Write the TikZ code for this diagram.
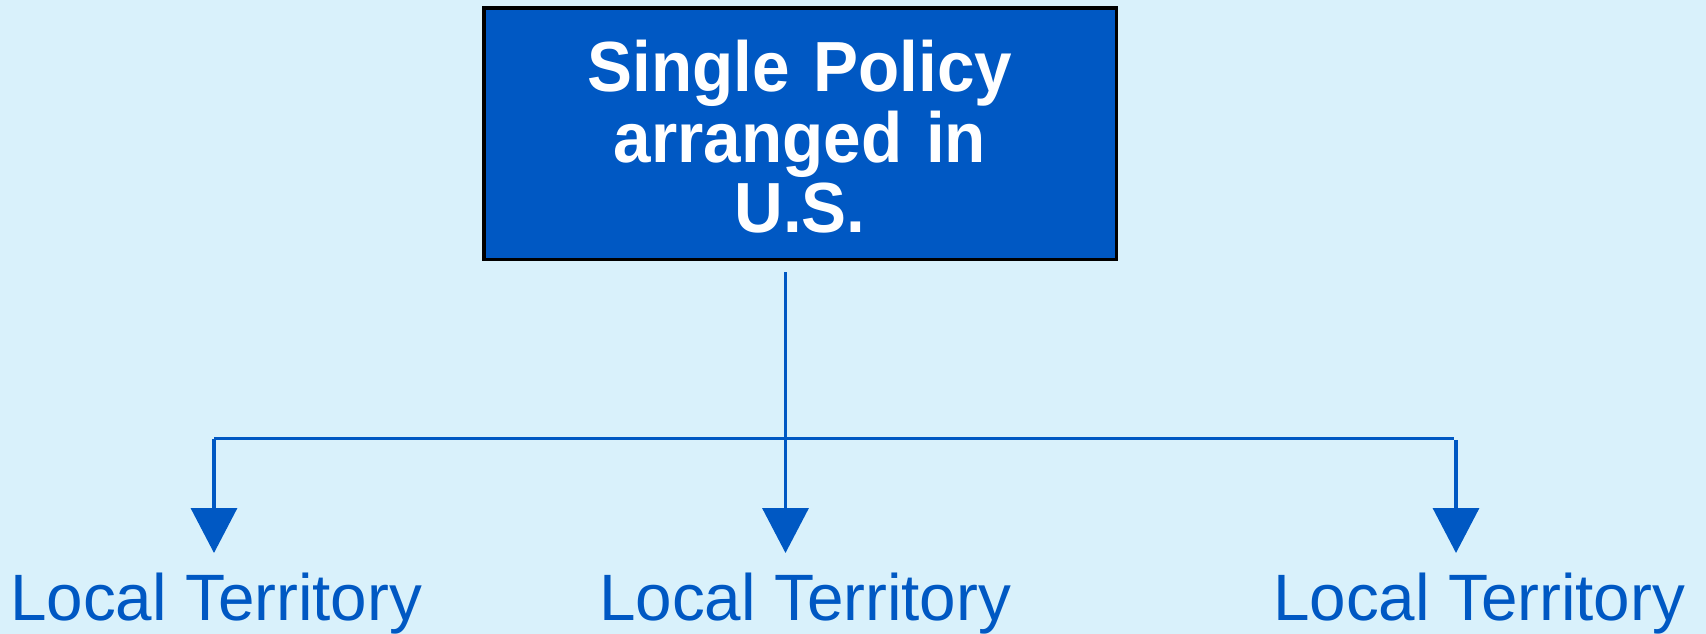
\documentclass[tikz,border=0pt]{standalone}
\usepackage{fontspec}
\setmainfont{Liberation Sans}
\usetikzlibrary{arrows.meta}
\definecolor{bgblue}{HTML}{D9F1FB}
\definecolor{mainblue}{HTML}{0058C3}
\tikzset{
  titlebox/.style={draw=black, line width=3.5pt, fill=mainblue, text=white,
    minimum width=632.5pt, minimum height=251pt, inner sep=0pt,
    text width=620pt, align=center,
    font=\bfseries\fontsize{71}{70.5}\selectfont\addfontfeature{FakeStretch=0.95}},
  leaf/.style={anchor=base west, inner sep=0pt, text=mainblue,
    font=\fontsize{65.6}{70}\selectfont},
  conn/.style={draw=mainblue, line width=3.5pt},
  arr/.style={conn, -{Triangle[width=46pt,length=45pt]}}
}
\begin{document}
\begin{tikzpicture}[x=1pt,y=-1pt]
\useasboundingbox (0,0) rectangle (1706,634);
\fill[bgblue] (0,0) rectangle (1706,634);
\node[titlebox] (title) at (800,133.75) {\rule{0pt}{58pt}Single Policy\\arranged in\\U.S.};
\node[leaf] (l1) at (10,620) {Local Territory};
\node[leaf] (l2) at (599,620) {Local Territory};
\node[leaf] (l3) at (1273,620) {Local Territory};
\coordinate (top) at (785.5,272);
\coordinate (jl) at (214,438.5);
\coordinate (jr) at (1453.5,438.5);
\coordinate (jr2) at (1456,440);
\coordinate (t1) at (214,553);
\coordinate (t2) at (785.5,553);
\coordinate (t3) at (1456,553);
\draw[conn] (jl) -- (jr);
\draw[arr] (top) -- (t2);
\draw[arr] (jl) -- (t1);
\draw[arr] (jr2) -- (t3);
\end{tikzpicture}
\end{document}
